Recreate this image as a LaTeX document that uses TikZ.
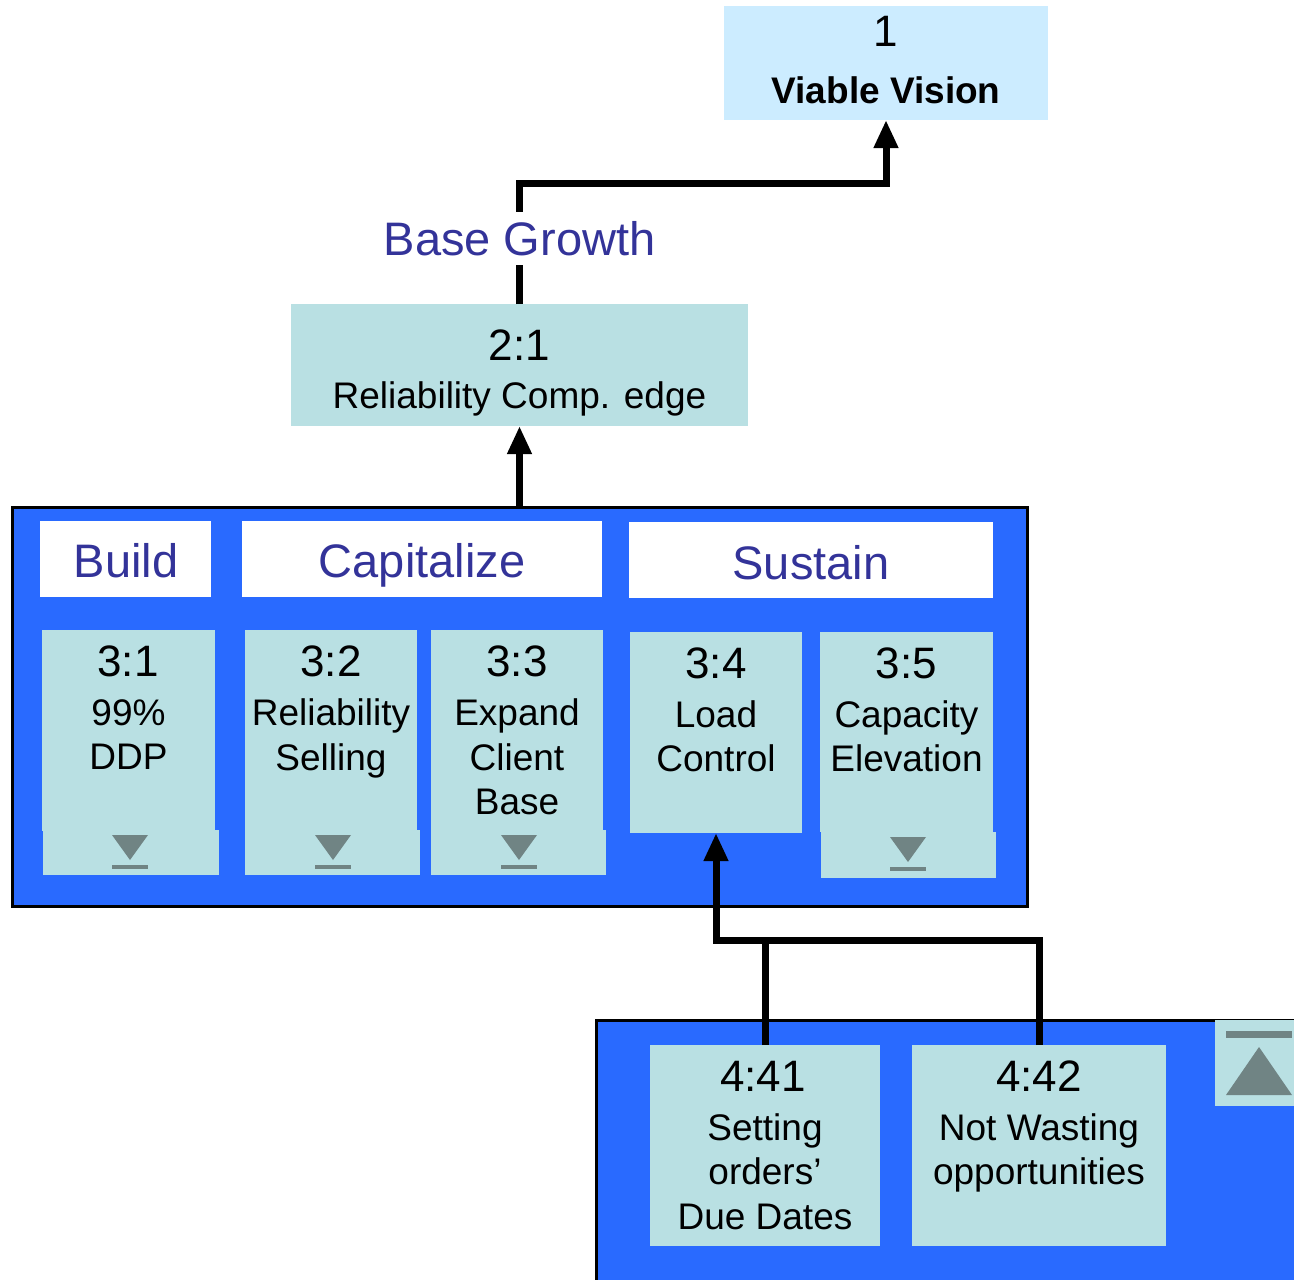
\documentclass[tikz,border=0pt]{standalone}
\usepackage{fontspec}
\setmainfont{Liberation Sans}
\usetikzlibrary{arrows.meta}
\definecolor{panelblue}{RGB}{41,106,255}
\definecolor{cardteal}{RGB}{185,224,227}
\definecolor{goalblue}{RGB}{204,236,255}
\definecolor{headtext}{RGB}{51,51,153}
\definecolor{icongray}{RGB}{112,132,132}
\newcommand\setfs[1]{\fontsize{#1}{#1}\selectfont}
\tikzset{
  blk/.style={rectangle, inner sep=0pt, outer sep=0pt, anchor=north west},
  card/.style={blk, fill=cardteal},
  panel/.style={blk, fill=panelblue, draw=black, line width=3pt},
  header/.style={blk, fill=white},
  num/.style={anchor=base, inner sep=0pt, font=\setfs{44}},
  body/.style={anchor=base, inner sep=0pt, font=\setfs{37}},
  headtxt/.style={anchor=base, inner sep=0pt, font=\setfs{47}, text=headtext},
  conn/.style={line width=7pt, line join=miter, draw=black},
  tip/.style={-{Triangle[width=23pt,length=28pt]}},
}
% bar-and-triangle markers on the cards
\newcommand\downmark[2]{%
  \fill[icongray] (#1-18,#2) -- (#1+18,#2) -- (#1,#2+25) -- cycle;
  \fill[icongray] (#1-18,#2+30) rectangle (#1+18,#2+34);}
\begin{document}
\begin{tikzpicture}[x=1pt,y=-1pt]
\useasboundingbox (0,0) rectangle (1294,1280);
\clip (0,0) rectangle (1294,1280);

% goal
\node[blk, fill=goalblue, minimum width=324pt, minimum height=114pt] (goal) at (724,6) {};
\node[num] at (886,46) {1};
\node[anchor=base, inner sep=0pt, font=\setfs{37}\bfseries] at (886,103) {Viable Vision};

% strategy 2:1
\node[card, minimum width=457pt, minimum height=122pt] (c21) at (291,304) {};
\node[num] at (519.5,360) {2:1};
\node[body] at (519.5,408) {Reliability Comp. edge};

% label on the connector
\node[anchor=base, inner xsep=4pt, inner ysep=9pt, font=\setfs{47}, text=headtext] (bg) at (519.5,255) {Base Growth};
\draw[conn] (c21.north) -- (bg.south);
\draw[conn, tip] (bg.north) -- (519.5,183) -| (goal.south);

% level 3 panel
\node[panel, minimum width=1015pt, minimum height=399pt] (p3) at (12,507) {};
\draw[conn, tip] (p3.north) -- (c21.south);

\node[header, minimum width=171pt, minimum height=76pt] (hb) at (40,521) {};
\node[header, minimum width=360pt, minimum height=76pt] (hc) at (242,521) {};
\node[header, minimum width=364pt, minimum height=76pt] (hs) at (629,522) {};
\node[headtxt] at (126,577) {Build};
\node[headtxt] at (422,577) {Capitalize};
\node[headtxt] at (811,579) {Sustain};

% 3:1
\node[card, minimum width=173pt, minimum height=201pt] (c31) at (42,630) {};
\fill[cardteal] (43,830) rectangle (219,875);
\node[num] at (128,676) {3:1};
\node[body] at (128.5,725) {99\%};
\node[body] at (128.5,769) {DDP};
\downmark{130}{835}

% 3:2
\node[card, minimum width=172pt, minimum height=201pt] (c32) at (245,630) {};
\fill[cardteal] (245,830) rectangle (420,875);
\node[num] at (331,676) {3:2};
\node[body] at (331,725) {Reliability};
\node[body] at (331,770) {Selling};
\downmark{333}{835}

% 3:3
\node[card, minimum width=172pt, minimum height=201pt] (c33) at (431,630) {};
\fill[cardteal] (431,830) rectangle (606,875);
\node[num] at (517,676) {3:3};
\node[body] at (517,725) {Expand};
\node[body] at (517,770) {Client};
\node[body] at (517,814) {Base};
\downmark{519}{835}

% 3:4
\node[card, minimum width=172pt, minimum height=201pt] (c34) at (630,632) {};
\node[num] at (716,678) {3:4};
\node[body] at (716,727) {Load};
\node[body] at (716,771) {Control};

% 3:5
\node[card, minimum width=173pt, minimum height=200pt] (c35) at (820,632) {};
\fill[cardteal] (821,832) rectangle (996,878);
\node[num] at (906.5,678) {3:5};
\node[body] at (906.5,727) {Capacity};
\node[body] at (906.5,771) {Elevation};
\downmark{908}{837}

% level 4 panel
\node[panel, minimum width=720pt, minimum height=280pt] (p4) at (596,1020) {};

\node[card, minimum width=230pt, minimum height=201pt] (c441) at (650,1045) {};
\node[num] at (763,1091) {4:41};
\node[body] at (765,1140) {Setting};
\node[body] at (765,1184) {orders’};
\node[body] at (765,1229) {Due Dates};

\node[card, minimum width=254pt, minimum height=201pt] (c442) at (912,1045) {};
\node[num] at (1039,1091) {4:42};
\node[body] at (1039,1140) {Not Wasting};
\node[body] at (1039,1184) {opportunities};

% up marker
\node[card, minimum width=85pt, minimum height=86pt] (up) at (1215,1020) {};
\fill[icongray] (1226,1031) rectangle (1292,1038);
\fill[icongray] (1226,1095) -- (1292,1095) -- (1259,1047) -- cycle;

% connectors from level 4 to 3:4
\coordinate (j) at (716,940);
\draw[conn, tip] (c441.north) |- (j) -- (c34.south);
\draw[conn] (c442.north) |- (j);
\end{tikzpicture}
\end{document}
